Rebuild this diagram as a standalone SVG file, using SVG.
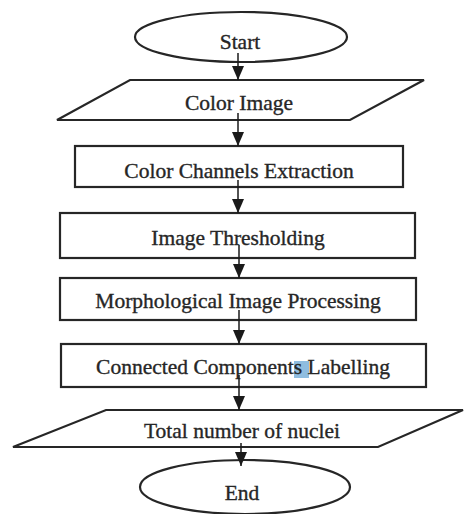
<svg xmlns="http://www.w3.org/2000/svg" width="464" height="514" viewBox="0 0 464 514">
<defs>
<marker id="ah" markerUnits="userSpaceOnUse" markerWidth="14" markerHeight="12" viewBox="0 0 14 12" refX="14" refY="6" orient="auto">
<path d="M0,0 L14,6 L0,12 Z" fill="#1a1a1a"/>
</marker>
<style>
.s{fill:#fff;stroke:#262626;stroke-width:2.2}
.t{font-family:"Liberation Serif","Times New Roman",serif;font-size:21.5px;fill:#262626;stroke:#262626;stroke-width:0.35;text-anchor:middle}
.c{stroke:#1a1a1a;stroke-width:1.5;fill:none}
</style>
</defs>
<rect width="464" height="514" fill="#fff"/>
<g id="start"><ellipse class="s" cx="241" cy="37" rx="106" ry="25"/><text class="t" x="240" y="49">Start</text></g>
<g id="color-image"><polygon class="s" points="130,80 424,80 350,120 57,120"/><text class="t" x="239" y="110">Color Image</text></g>
<g id="channels"><rect class="s" x="75" y="146" width="328" height="41"/><text class="t" x="239" y="178">Color Channels Extraction</text></g>
<g id="threshold"><rect class="s" x="60" y="213" width="355" height="45"/><text class="t" x="238" y="245">Image Thresholding</text></g>
<g id="morph"><rect class="s" x="60" y="278" width="356" height="42"/><text class="t" x="238" y="308">Morphological Image Processing</text></g>
<g id="ccl"><rect class="s" x="61" y="344" width="365" height="43"/><rect x="294" y="361" width="15" height="17" fill="#8fbde0"/><text class="t" x="243" y="374">Connected Components Labelling</text></g>
<g id="total"><polygon class="s" points="106,410 463,410 378,447 13,447"/><text class="t" x="242" y="438">Total number of nuclei</text></g>
<g id="end"><ellipse class="s" cx="245" cy="487" rx="105" ry="27"/><text class="t" x="242" y="500">End</text></g>
<g id="connectors">
<path class="c" d="M238,53 V80" marker-end="url(#ah)"/>
<path class="c" d="M238,113 V146" marker-end="url(#ah)"/>
<path class="c" d="M238,180 V213" marker-end="url(#ah)"/>
<path class="c" d="M239,245 V278" marker-end="url(#ah)"/>
<path class="c" d="M239,310 V344" marker-end="url(#ah)"/>
<path class="c" d="M239,375 V410" marker-end="url(#ah)"/>
<path class="c" d="M241,443 V466" marker-end="url(#ah)"/>
</g>
</svg>
